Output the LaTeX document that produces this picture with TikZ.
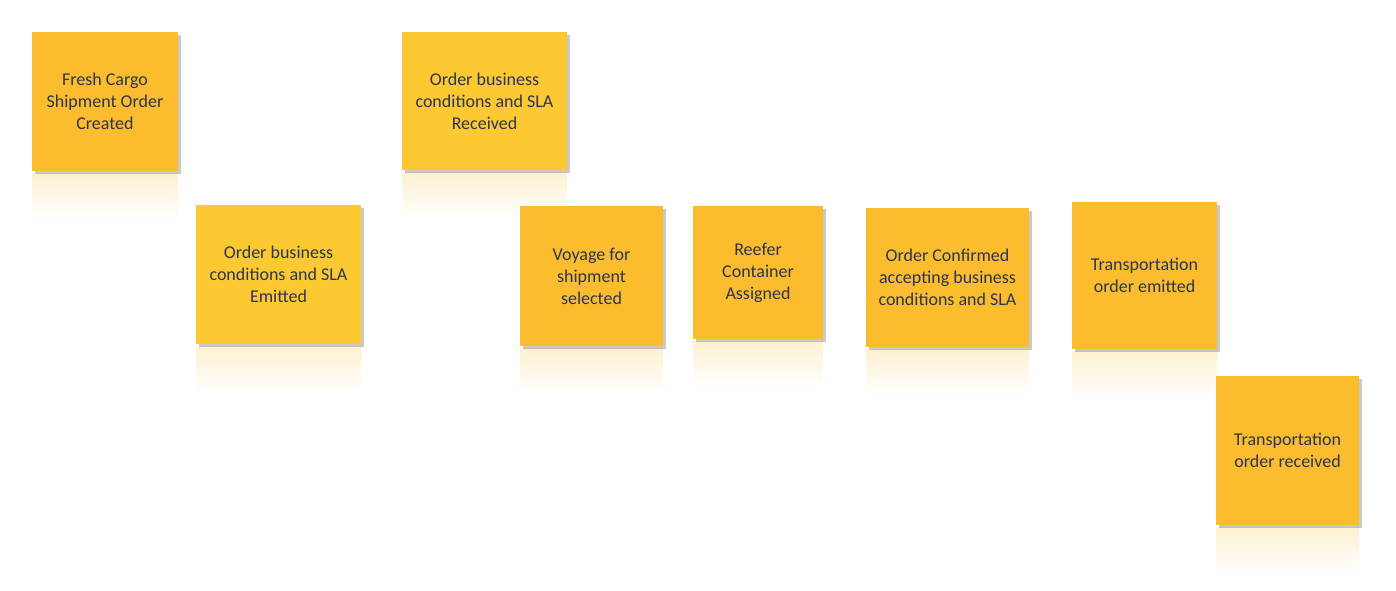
\documentclass[tikz,border=0pt]{standalone}
\usepackage{fontspec}
\setmainfont{Carlito}
\usetikzlibrary{shadows,backgrounds}
\definecolor{stickyorange}{HTML}{FBBD2E}
\definecolor{stickyyellow}{HTML}{FDC932}
\definecolor{stickytext}{HTML}{2B3553}
\begin{document}
\begin{tikzpicture}[x=0.5pt,y=-0.5pt,
  sticky/.style={fill=stickyorange, text=stickytext, align=center,
     inner sep=0pt, outer sep=0pt,
     font=\fontsize{9}{11}\selectfont,
     drop shadow={shadow xshift=1.5pt, shadow yshift=-1.5pt, opacity=0.3, fill=black!70}},
  light/.style={sticky, fill=stickyyellow},
  mirror/.style={top color=stickyorange!22, bottom color=white, draw=none}]
\useasboundingbox (0,0) rectangle (1396,590);

% top row
\node [sticky, minimum width=73pt, minimum height=69.5pt] (fresh) at (105,101.5)
   {Fresh Cargo\\Shipment Order\\Created};
\node [light, minimum width=82.5pt, minimum height=69pt] (slarecv) at (484.5,101)
   {Order business\\conditions and SLA\\Received};

% middle row
\node [light, minimum width=82.5pt, minimum height=69.5pt] (slaemit) at (278.5,274.5)
   {Order business\\conditions and SLA\\Emitted};
\node [sticky, minimum width=71.5pt, minimum height=70pt] (voyage) at (591.5,276)
   {Voyage for\\shipment\\selected};
\node [sticky, minimum width=65pt, minimum height=66.5pt] (reefer) at (758,272.5)
   {Reefer\\Container\\Assigned};
\node [sticky, minimum width=81.5pt, minimum height=69.5pt] (confirm) at (947.5,277.5)
   {Order Confirmed\\accepting business\\conditions and SLA};
\node [sticky, minimum width=72.5pt, minimum height=73.5pt] (toemit) at (1144.5,275.5)
   {Transportation\\order emitted};

% last one
\node [sticky, minimum width=71.5pt, minimum height=74.5pt] (torecv) at (1287.5,450.5)
   {Transportation\\order received};

% reflections under the stickies
\begin{scope}[on background layer]
\foreach \n in {fresh,slarecv,slaemit,voyage,reefer,confirm,toemit,torecv}
   \shade [mirror] ([yshift=-1pt]\n.south west) rectangle ([yshift=-24pt]\n.south east);
\end{scope}
\end{tikzpicture}
\end{document}
